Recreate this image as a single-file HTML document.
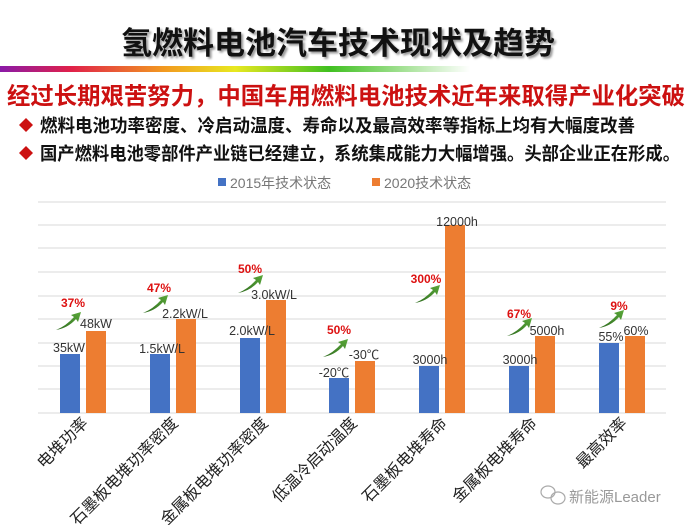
<!DOCTYPE html>
<html><head><meta charset="utf-8"><style>
html,body{margin:0;padding:0;background:#fff;}
svg{display:block;}
text{font-family:"Liberation Sans","Noto Sans CJK SC",sans-serif;}
</style></head><body>
<svg width="700" height="525" viewBox="0 0 700 525" xmlns="http://www.w3.org/2000/svg">
<defs>
<linearGradient id="rb" x1="0" x2="1" y1="0" y2="0">
<stop offset="0" stop-color="#8a1aa8"/>
<stop offset="0.15" stop-color="#e0204a"/>
<stop offset="0.35" stop-color="#f29a20"/>
<stop offset="0.5" stop-color="#e8e820"/>
<stop offset="0.7" stop-color="#40c020"/>
<stop offset="1" stop-color="#ffffff"/>
</linearGradient>
<linearGradient id="ar" x1="0" y1="1" x2="1" y2="0">
<stop offset="0" stop-color="#2e6b1e"/><stop offset="1" stop-color="#5aa83a"/>
</linearGradient>
</defs>
<text x="338" y="54" text-anchor="middle" font-size="31" font-weight="bold" fill="#111" style="text-shadow:2px 2px 2px #999">氢燃料电池汽车技术现状及趋势</text>
<rect x="0" y="66" width="470" height="6" fill="url(#rb)"/>
<text x="7" y="104" font-size="23.4" font-weight="bold" fill="#cc1111" textLength="678" lengthAdjust="spacingAndGlyphs">经过长期艰苦努力，中国车用燃料电池技术近年来取得产业化突破</text>
<path d="M26 118 L33 125 L26 132 L19 125Z" fill="#cc1111"/>
<text x="40" y="132" font-size="18" font-weight="bold" fill="#111" textLength="595" lengthAdjust="spacingAndGlyphs">燃料电池功率密度、冷启动温度、寿命以及最高效率等指标上均有大幅度改善</text>
<path d="M26 146 L33 153 L26 160 L19 153Z" fill="#cc1111"/>
<text x="40" y="160" font-size="18" font-weight="bold" fill="#111" textLength="640" lengthAdjust="spacingAndGlyphs">国产燃料电池零部件产业链已经建立，系统集成能力大幅增强。头部企业正在形成。</text>
<rect x="218" y="178" width="8" height="8" fill="#4472c4"/>
<text x="230" y="188" font-size="14" fill="#777">2015年技术状态</text>
<rect x="372" y="178" width="8" height="8" fill="#ed7d31"/>
<text x="384" y="188" font-size="14" fill="#777">2020技术状态</text>
<g stroke="#e0e0e0" stroke-width="1.2">
<line x1="38" x2="666" y1="202" y2="202"/><line x1="38" x2="666" y1="225" y2="225"/>
<line x1="38" x2="666" y1="248" y2="248"/><line x1="38" x2="666" y1="272" y2="272"/>
<line x1="38" x2="666" y1="296" y2="296"/><line x1="38" x2="666" y1="319" y2="319"/>
<line x1="38" x2="666" y1="343" y2="343"/><line x1="38" x2="666" y1="366" y2="366"/>
<line x1="38" x2="666" y1="389" y2="389"/><line x1="38" x2="666" y1="413" y2="413"/>
</g>
<g fill="#4472c4">
<rect x="60" y="354" width="20" height="59"/><rect x="150" y="354" width="20" height="59"/>
<rect x="240" y="338" width="20" height="75"/><rect x="329" y="378" width="20" height="35"/>
<rect x="419" y="366" width="20" height="47"/><rect x="509" y="366" width="20" height="47"/>
<rect x="599" y="343" width="20" height="70"/>
</g>
<g fill="#ed7d31">
<rect x="86" y="331" width="20" height="82"/><rect x="176" y="319" width="20" height="94"/>
<rect x="266" y="300" width="20" height="113"/><rect x="355" y="361" width="20" height="52"/>
<rect x="445" y="225" width="20" height="188"/><rect x="535" y="336" width="20" height="77"/>
<rect x="625" y="336" width="20" height="77"/>
</g>
<g font-size="12.5" fill="#333" text-anchor="middle">
<text x="69" y="352">35kW</text><text x="96" y="328">48kW</text>
<text x="162" y="353">1.5kW/L</text><text x="185" y="318">2.2kW/L</text>
<text x="252" y="335">2.0kW/L</text><text x="274" y="299">3.0kW/L</text>
<text x="334" y="377">-20℃</text><text x="364" y="359">-30℃</text>
<text x="430" y="364">3000h</text><text x="457" y="226">12000h</text>
<text x="520" y="364">3000h</text><text x="547" y="335">5000h</text>
<text x="611" y="341">55%</text><text x="636" y="335">60%</text>
</g>
<g font-size="12" font-weight="bold" fill="#dd1111" text-anchor="middle">
<text x="73" y="307">37%</text><text x="159" y="292">47%</text><text x="250" y="273">50%</text>
<text x="339" y="334">50%</text><text x="426" y="283">300%</text><text x="519" y="318">67%</text>
<text x="619" y="310">9%</text>
</g>
<g fill="url(#ar)">
<g transform="translate(56,330)"><path d="M0 0 Q10 -4 18 -13 L15 -15 L25 -18 L22 -8 L20 -11 Q12 -2 0 0Z"/></g>
<g transform="translate(143,313)"><path d="M0 0 Q10 -4 18 -13 L15 -15 L25 -18 L22 -8 L20 -11 Q12 -2 0 0Z"/></g>
<g transform="translate(238,293)"><path d="M0 0 Q10 -4 18 -13 L15 -15 L25 -18 L22 -8 L20 -11 Q12 -2 0 0Z"/></g>
<g transform="translate(323,357)"><path d="M0 0 Q10 -4 18 -13 L15 -15 L25 -18 L22 -8 L20 -11 Q12 -2 0 0Z"/></g>
<g transform="translate(415,303)"><path d="M0 0 Q10 -4 18 -13 L15 -15 L25 -18 L22 -8 L20 -11 Q12 -2 0 0Z"/></g>
<g transform="translate(507,336)"><path d="M0 0 Q10 -4 18 -13 L15 -15 L25 -18 L22 -8 L20 -11 Q12 -2 0 0Z"/></g>
<g transform="translate(599,328)"><path d="M0 0 Q10 -4 18 -13 L15 -15 L25 -18 L22 -8 L20 -11 Q12 -2 0 0Z"/></g>
</g>
<g font-size="16" fill="#222" text-anchor="end">
<text transform="translate(89,424) rotate(-45)">电堆功率</text>
<text transform="translate(179,424) rotate(-45)">石墨板电堆功率密度</text>
<text transform="translate(269,424) rotate(-45)">金属板电堆功率密度</text>
<text transform="translate(358,424) rotate(-45)">低温冷启动温度</text>
<text transform="translate(448,424) rotate(-45)">石墨板电堆寿命</text>
<text transform="translate(538,424) rotate(-45)">金属板电堆寿命</text>
<text transform="translate(628,424) rotate(-45)">最高效率</text>
</g>
<g fill="none" stroke="#aaa" stroke-width="1.2">
<ellipse cx="548" cy="492" rx="7" ry="6"/><ellipse cx="558" cy="498" rx="7" ry="6"/>
</g>
<text x="569" y="502" font-size="15" fill="#999">新能源Leader</text>
</svg>
</body></html>
